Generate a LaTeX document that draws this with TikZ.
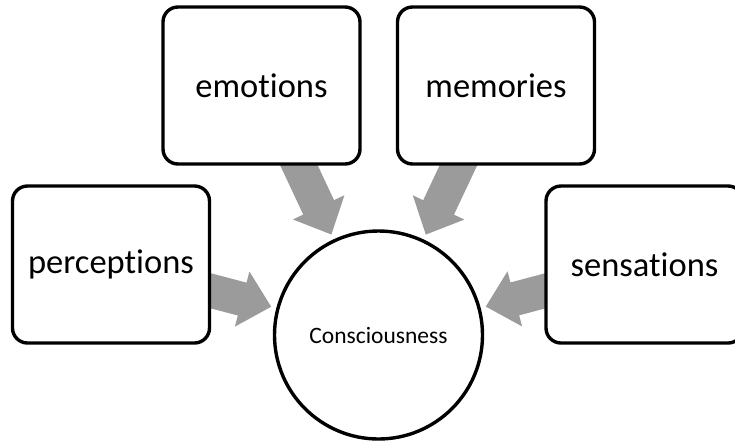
\documentclass[tikz,border=0pt]{standalone}
\usepackage{fontspec}
\setmainfont{Carlito}[Ligatures={NoCommon}]
\usetikzlibrary{calc,backgrounds}
\definecolor{arrowgray}{RGB}{155,155,155}
\newcommand{\blockarr}[2]{%
  \coordinate (ab) at ($(#2)!30pt!(#1)$);
  \fill[arrowgray] ($(#1)!17pt!-90:(#2)$) -- ($(ab)!17pt!-90:(#2)$) -- ($(ab)!28.5pt!-90:(#2)$) -- (#2)
    -- ($(ab)!28.5pt!90:(#2)$) -- ($(ab)!17pt!90:(#2)$) -- ($(#1)!17pt!90:(#2)$) -- cycle;}
\begin{document}
\begin{tikzpicture}[x=1pt,y=-1pt,
  itembox/.style={draw=black, line width=3.4pt, fill=white, rounded corners=15pt,
    minimum width=197pt, minimum height=157pt, inner sep=0pt, font=\fontsize{34.5}{40}\selectfont},
  centercirc/.style={draw=black, line width=3.4pt, fill=white, circle, minimum size=208pt,
    inner sep=0pt, font=\fontsize{23.5}{28}\selectfont}]
\useasboundingbox (0,0) rectangle (735,440);
\node[itembox] (emo) at (261.5,85.5) {emotions};
\node[itembox] (mem) at (496,85.5) {memories};
\node[itembox] (per) at (111,264.5) {perceptions};
\node[itembox] (sen) at (644.5,264.5) {sensations};
\node[centercirc] (cons) at (378.5,335) {Consciousness};
\coordinate (tE) at ($(cons.center)!111pt!(emo.center)$);
\coordinate (tM) at ($(cons.center)!111pt!(mem.center)$);
\coordinate (tP) at ($(cons.center)!111pt!(per.center)$);
\coordinate (tS) at ($(cons.center)!111pt!(sen.center)$);
\begin{scope}[on background layer]
\blockarr{emo.center}{tE}
\blockarr{mem.center}{tM}
\blockarr{per.center}{tP}
\blockarr{sen.center}{tS}
\end{scope}
\end{tikzpicture}
\end{document}
